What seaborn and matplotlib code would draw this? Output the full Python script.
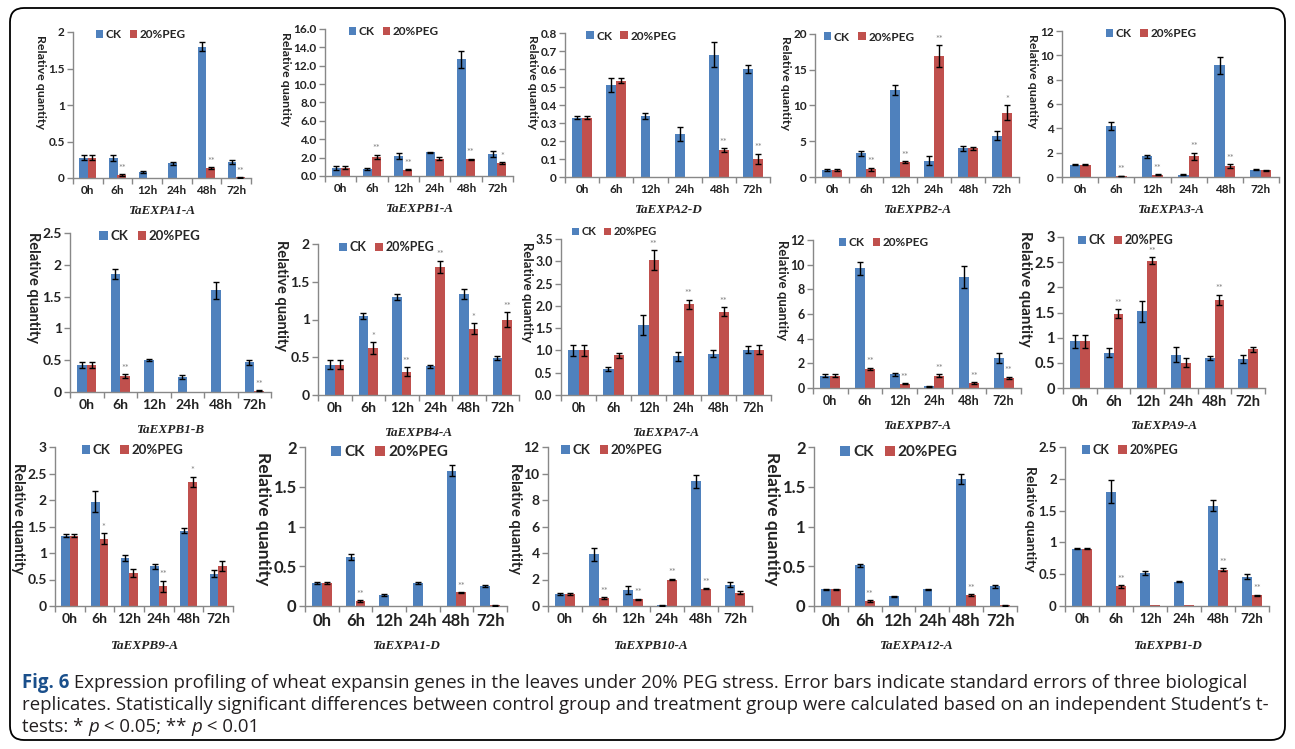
import numpy as np
import pandas as pd
import matplotlib
matplotlib.use("Agg")
import matplotlib.pyplot as plt
import seaborn as sns
from matplotlib.patches import FancyBboxPatch
from matplotlib.transforms import IdentityTransform
from matplotlib.ticker import FuncFormatter, FixedLocator

# ---------------- data ----------------
times = ["0h", "6h", "12h", "24h", "48h", "72h"]
groups = ["CK", "20%PEG"]
genes = ["TaEXPA1-A", "TaEXPB1-A", "TaEXPA2-D", "TaEXPB2-A", "TaEXPA3-A",
         "TaEXPB1-B", "TaEXPB4-A", "TaEXPA7-A", "TaEXPB7-A", "TaEXPA9-A",
         "TaEXPB9-A", "TaEXPA1-D", "TaEXPB10-A", "TaEXPA12-A", "TaEXPB1-D"]

ck_mean = [
    [0.28, 0.27, 0.08, 0.20, 1.80, 0.22],
    [0.9, 0.8, 2.2, 2.6, 12.7, 2.4],
    [0.33, 0.51, 0.34, 0.24, 0.68, 0.60],
    [1.0, 3.3, 12.2, 2.3, 4.0, 5.8],
    [1.0, 4.2, 1.7, 0.2, 9.2, 0.6],
    [0.42, 1.85, 0.50, 0.24, 1.60, 0.47],
    [0.40, 1.05, 1.30, 0.38, 1.34, 0.49],
    [1.00, 0.58, 1.57, 0.87, 0.93, 1.02],
    [1.0, 9.7, 1.1, 0.15, 9.0, 2.4],
    [0.93, 0.70, 1.52, 0.66, 0.60, 0.58],
    [1.33, 1.97, 0.90, 0.75, 1.42, 0.61],
    [0.29, 0.62, 0.14, 0.29, 1.70, 0.25],
    [0.9, 3.9, 1.2, 0.05, 9.4, 1.6],
    [0.21, 0.51, 0.12, 0.21, 1.60, 0.25],
    [0.90, 1.80, 0.52, 0.38, 1.58, 0.46],
]
ck_se = [
    [0.03, 0.04, 0.01, 0.02, 0.06, 0.03],
    [0.2, 0.1, 0.3, 0.05, 0.9, 0.3],
    [0.01, 0.04, 0.015, 0.04, 0.07, 0.02],
    [0.1, 0.4, 0.7, 0.6, 0.3, 0.6],
    [0.05, 0.3, 0.1, 0.02, 0.7, 0.05],
    [0.05, 0.08, 0.02, 0.03, 0.13, 0.04],
    [0.06, 0.04, 0.04, 0.02, 0.07, 0.03],
    [0.13, 0.04, 0.22, 0.10, 0.08, 0.08],
    [0.1, 0.5, 0.1, 0.05, 0.9, 0.4],
    [0.13, 0.09, 0.20, 0.15, 0.04, 0.08],
    [0.02, 0.20, 0.06, 0.05, 0.05, 0.07],
    [0.01, 0.04, 0.01, 0.01, 0.07, 0.01],
    [0.05, 0.5, 0.3, 0.02, 0.5, 0.2],
    [0.01, 0.02, 0.005, 0.01, 0.06, 0.02],
    [0.01, 0.18, 0.03, 0.01, 0.09, 0.04],
]
peg_mean = [
    [0.28, 0.04, 0.0, 0.0, 0.14, 0.01],
    [0.9, 2.1, 0.7, 1.9, 1.8, 1.4],
    [0.33, 0.535, 0.0, 0.0, 0.15, 0.10],
    [1.0, 1.1, 2.1, 16.9, 4.0, 9.0],
    [1.0, 0.1, 0.2, 1.7, 0.9, 0.55],
    [0.42, 0.25, 0.0, 0.0, 0.0, 0.02],
    [0.40, 0.62, 0.31, 1.70, 0.88, 1.00],
    [1.00, 0.89, 3.03, 2.04, 1.87, 1.02],
    [1.0, 1.55, 0.35, 1.0, 0.4, 0.85],
    [0.93, 1.48, 2.53, 0.50, 1.75, 0.77],
    [1.33, 1.27, 0.62, 0.37, 2.34, 0.75],
    [0.29, 0.06, 0.0, 0.0, 0.17, 0.01],
    [0.9, 0.6, 0.5, 2.0, 1.3, 1.0],
    [0.21, 0.06, 0.0, 0.0, 0.14, 0.01],
    [0.90, 0.31, 0.01, 0.01, 0.57, 0.17],
]
peg_se = [
    [0.03, 0.01, 0.0, 0.0, 0.01, 0.005],
    [0.15, 0.2, 0.05, 0.15, 0.1, 0.1],
    [0.01, 0.015, 0.0, 0.0, 0.01, 0.03],
    [0.1, 0.2, 0.1, 1.5, 0.2, 1.0],
    [0.05, 0.02, 0.02, 0.3, 0.15, 0.05],
    [0.05, 0.03, 0.0, 0.0, 0.0, 0.01],
    [0.06, 0.08, 0.06, 0.08, 0.07, 0.10],
    [0.13, 0.06, 0.22, 0.10, 0.10, 0.10],
    [0.1, 0.1, 0.03, 0.1, 0.05, 0.08],
    [0.13, 0.09, 0.07, 0.09, 0.10, 0.05],
    [0.02, 0.10, 0.08, 0.11, 0.10, 0.09],
    [0.01, 0.01, 0.0, 0.0, 0.005, 0.005],
    [0.05, 0.05, 0.05, 0.05, 0.05, 0.1],
    [0.01, 0.01, 0.0, 0.0, 0.01, 0.005],
    [0.01, 0.02, 0.0, 0.0, 0.02, 0.01],
]
sig = [
    ["", "**", "", "", "**", "**"],
    ["", "**", "**", "", "**", "*"],
    ["", "", "", "", "**", "**"],
    ["", "**", "**", "**", "", "*"],
    ["", "**", "**", "**", "**", ""],
    ["", "**", "", "", "", "**"],
    ["", "*", "**", "**", "*", "**"],
    ["", "", "**", "**", "**", ""],
    ["", "**", "**", "**", "**", "**"],
    ["", "**", "**", "", "**", ""],
    ["", "*", "", "**", "*", ""],
    ["", "**", "", "", "**", ""],
    ["", "**", "**", "**", "**", ""],
    ["", "**", "", "", "**", ""],
    ["", "**", "", "", "**", "**"],
]
y_max = [2, 16, 0.8, 20, 12, 2.5, 2, 3.5, 12, 3, 3, 2, 12, 2, 2.5]
y_step = [0.5, 2, 0.1, 5, 2, 0.5, 0.5, 0.5, 2, 0.5, 0.5, 0.5, 2, 0.5, 0.5]
y_fmt = ["g", ".1f", "g", "g", "g", "g", "g", ".1f", "g", "g", "g", "g", "g", "g", "g"]

caption_lines = [
    [("Fig. 6", "fig"), (" Expression profiling of wheat expansin genes in the leaves under 20% PEG stress. Error bars indicate standard errors of three biological", "n")],
    [("replicates. Statistically significant differences between control group and treatment group were calculated based on an independent Student\u2019s t-", "n")],
    [("tests: * ", "n"), ("p", "i"), (" < 0.05; ** ", "n"), ("p", "i"), (" < 0.01", "n")],
]

# ---------------- layout (pixels) ----------------
W, H = 1295, 749
# left, right, y of top tick, y of zero
boxes = [
    (73, 251, 32, 178), (325, 513, 29, 176), (565, 770, 33, 177), (815, 1019, 34, 177), (1062, 1279, 31, 177),
    (70, 271, 233, 392), (318, 519, 244, 395), (561, 771, 239, 395), (813, 1021, 240, 388), (1063, 1265, 237, 388),
    (55, 233, 447, 606), (305, 507, 447, 606), (548, 752, 447, 606), (814, 1017, 447, 606), (1065, 1269, 447, 606),
]
fsz = [8.5, 8.5, 8.5, 8.5, 8.5, 10, 10, 9, 9, 10.5, 10, 12, 10, 12, 9.5]
leg_fs = [8.5, 8.5, 8.5, 8.5, 8.5, 9.5, 9.0, 8.0, 8.5, 9.0, 9.5, 11, 9.5, 11, 9.0]
leg_x = [0.10, 0.10, 0.08, 0.02, 0.18, 0.12, 0.08, 0.03, 0.10, 0.05, 0.12, 0.10, 0.04, 0.10, 0.06]
leg_y = [1.05] * 7 + [1.11] + [1.05] * 7
title_off = [33] * 5 + [38] * 5 + [40] * 5
ylab_y = [0.66] * 10 + [0.55] * 5

blue = "#4F81BD"
red = "#C0504D"

sns.set_theme(style="white")
plt.rcParams["font.family"] = ["Lato", "DejaVu Sans"]

fig = plt.figure(figsize=(W / 100, H / 100), dpi=100)
axes = []

for i, gene in enumerate(genes):
    l, r, t, z = boxes[i]
    ax = fig.add_axes([l / W, 1 - z / H, (r - l) / W, (z - t) / H])
    axes.append(ax)
    df = pd.DataFrame({
        "time": times * 2,
        "group": [groups[0]] * 6 + [groups[1]] * 6,
        "value": ck_mean[i] + peg_mean[i],
    })
    sns.barplot(data=df, x="time", y="value", hue="group", hue_order=groups,
                palette=[blue, red], width=0.58, errorbar=None, saturation=1,
                ax=ax, linewidth=0)
    fs = fsz[i]
    for cont, errs in zip(ax.containers, [ck_se[i], peg_se[i]]):
        xs, hs, es = [], [], []
        for p, e in zip(cont.patches, errs):
            if e > 0:
                xs.append(p.get_x() + p.get_width() / 2)
                hs.append(p.get_height())
                es.append(e)
        ax.errorbar(xs, hs, yerr=es, fmt="none", ecolor="black", elinewidth=1.0,
                    capsize=2.5, capthick=1.0, zorder=4)
    # significance marks above PEG bars
    peg_cont = ax.containers[1]
    for p, e, s in zip(peg_cont.patches, peg_se[i], sig[i]):
        if s:
            ax.annotate(s, (p.get_x() + p.get_width() / 2, p.get_height() + e),
                        xytext=(0, 1.0), textcoords="offset points", ha="center", va="bottom",
                        fontsize=6.5, color="#808080")
    ax.set_ylim(0, y_max[i])
    ax.set_xlim(-0.5, 5.5)
    ticks = np.arange(0, y_max[i] + y_step[i] / 2, y_step[i])
    ax.set_yticks(ticks)
    f = y_fmt[i]
    ax.yaxis.set_major_formatter(FuncFormatter(lambda v, pos, f=f: format(round(v, 6), f)))
    ax.xaxis.set_minor_locator(FixedLocator(np.arange(-0.5, 6, 1)))
    ax.tick_params(axis="x", which="major", length=0, pad=5, labelsize=fs)
    ax.tick_params(axis="x", which="minor", length=4, width=1, color="#888888", direction="out")
    ax.tick_params(axis="y", length=4, width=1, color="#888888", direction="out", pad=2, labelsize=fs)
    ax.tick_params(bottom=True, left=True, which="both")
    for lab in ax.get_xticklabels() + ax.get_yticklabels():
        lab.set_fontweight("bold")
        lab.set_color("#222222")
    for sp in ["top", "right"]:
        ax.spines[sp].set_visible(False)
    for sp in ["left", "bottom"]:
        ax.spines[sp].set_color("#888888")
        ax.spines[sp].set_linewidth(1.0)
    ax.set_xlabel("")
    ax.set_ylabel("Relative quantity", rotation=270, fontsize=fs * 1.05,
                  fontweight="bold", color="#222222")
    ax.legend(loc="upper left", bbox_to_anchor=(leg_x[i], leg_y[i]), frameon=False, ncol=2,
              handlelength=0.65, handleheight=0.65, columnspacing=0.7, handletextpad=0.2,
              borderaxespad=0, prop={"size": leg_fs[i], "weight": "bold"})
    ax.annotate(gene, xy=(0.5, 0), xycoords="axes fraction", xytext=(0, -title_off[i]),
                textcoords="offset pixels", ha="center", va="center",
                fontsize=9.5, fontstyle="italic", fontweight="bold",
                family="Liberation Serif", color="#222222")

# place y labels right next to the tick labels
renderer = fig.canvas.get_renderer()
fig.canvas.draw()
for i, ax in enumerate(axes):
    l, r, t, z = boxes[i]
    x0 = min(lab.get_window_extent(renderer).x0 for lab in ax.get_yticklabels())
    frac = (x0 - 2 - l) / (r - l)
    ax.yaxis.set_label_coords(frac, ylab_y[i])
    ax.yaxis.label.set_va("top")
    ax.yaxis.label.set_ha("center")
    ax.yaxis.label.set_rotation_mode("anchor")

# frame
fig.add_artist(FancyBboxPatch((10, H - 740), 1275, 732,
                              boxstyle="round,pad=0,rounding_size=14",
                              transform=IdentityTransform(), fill=False,
                              lw=1.3, ec="black"))

# caption with mixed styles
cap_fs = 13.4
line_y = [683, 705, 727]
for line, yy in zip(caption_lines, line_y):
    x = 22
    for txt, sty in line:
        kw = dict(fontsize=cap_fs, family=["Open Sans", "DejaVu Sans"], color="#231f20")
        if sty == "fig":
            kw.update(fontweight="bold", color="#1a4f8b")
        elif sty == "i":
            kw.update(fontstyle="italic")
        tx = fig.text(x / W, 1 - yy / H, txt, ha="left", va="center", **kw)
        bb = tx.get_window_extent(renderer=renderer)
        x += bb.width

fig.savefig("out.png", dpi=100)
